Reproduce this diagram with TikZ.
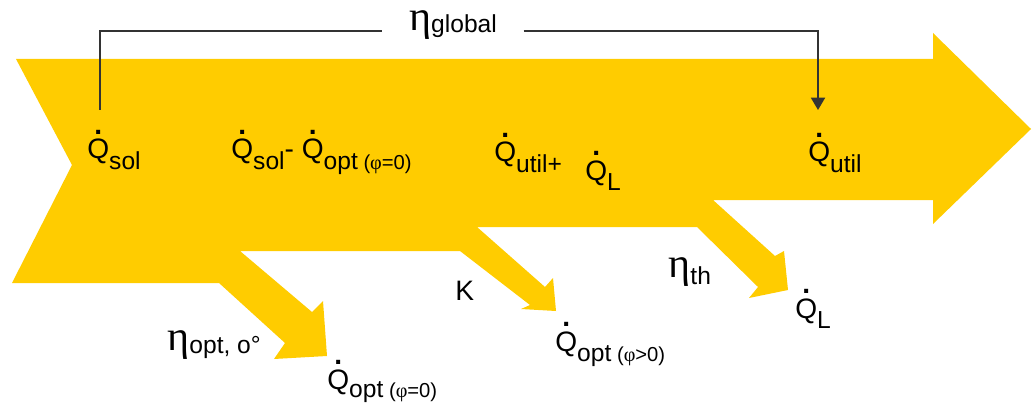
\documentclass[tikz,border=0pt]{standalone}
\usepackage{fontspec}
\setmainfont{Liberation Sans}
\newfontfamily\greekfont{Liberation Serif}
\usetikzlibrary{arrows.meta}
\definecolor{flowyellow}{RGB}{255,204,0}
% dotted Q and the small indices
\newcommand\Qd{\leavevmode\hbox{\rlap{\hbox to 0.78em{\hss\raisebox{0.86em}{\textbf{.}}\hss}}Q}}
\newcommand\idx[2][6pt]{\raisebox{-#1}{\fontsize{14}{16}\selectfont #2}}
\newcommand\cond[1]{{\fontsize{11.5}{13}\selectfont\ (#1)}}
\newcommand\etaB{{\greekfont\fontsize{24}{26}\selectfont η}}
\newcommand\phiS{{\greekfont φ}}

\begin{document}
\begin{tikzpicture}[x=0.02cm, y=-0.02cm, >={Triangle[length=7pt,width=8pt]},
  lbl/.style={anchor=base west, inner sep=0pt, font=\fontsize{16}{19}\selectfont},
  link/.style={black!80, line width=0.9pt}]
\useasboundingbox (0,0) rectangle (1033,405);

% Flujo principal con sus tres derivaciones
\fill[flowyellow] (16,59) -- (933,59) -- (933,33) -- (1031,129) -- (933,224) -- (933,200)
  -- (713,200) -- (775,256) -- (784,251) -- (788,290) -- (749,298) -- (758,287) -- (697,227)
  -- (477,227) -- (545,287) -- (553,278) -- (556,311) -- (521,309) -- (530,305) -- (460,251)
  -- (240,251) -- (312,312) -- (323,301) -- (327,356) -- (274,359) -- (285,343) -- (219,283)
  -- (12,283) -- (72,165) -- cycle;

% Etiquetas sobre la banda
\node[lbl] (qsol) at (87,159) {\Qd\idx{sol}};
\node[lbl] (qdiff) at (231,159) {\Qd\idx{sol}- \Qd\idx{opt\cond{\phiS=0}}};
\node[lbl] (qsum) at (494,162) {\Qd\idx{util+}};
\node[lbl] (ql) at (585,180) {\Qd\idx{L}};
\node[lbl] (qutil) at (808,162) {\Qd\idx{util}};

% Etiquetas de las perdidas
\node[lbl] (eopt) at (167,350) {\etaB\idx[2pt]{opt, o°}};
\node[lbl] (qopt0) at (327,389) {\Qd\idx[5pt]{opt\cond{\phiS=0}}};
\node[lbl] (klab) at (455,300) {K};
\node[lbl] (qoptp) at (555,351) {\Qd\idx{opt\cond{\phiS>0}}};
\node[lbl] (eth) at (668,277) {\etaB\idx[4pt]{th}};
\node[lbl] (qlow) at (795,318) {\Qd\idx{L}};

% Rendimiento global
\node[lbl, anchor=base, inner xsep=15pt] (eglobal) at (453,31) {\etaB\idx[1pt]{global}};
\coordinate (solTop) at (100,110);
\coordinate (utilTop) at (818,110);
\draw[link] (solTop) |- (eglobal.base west);
\draw[link, ->] (eglobal.base east) -| (utilTop);

\end{tikzpicture}
\end{document}
